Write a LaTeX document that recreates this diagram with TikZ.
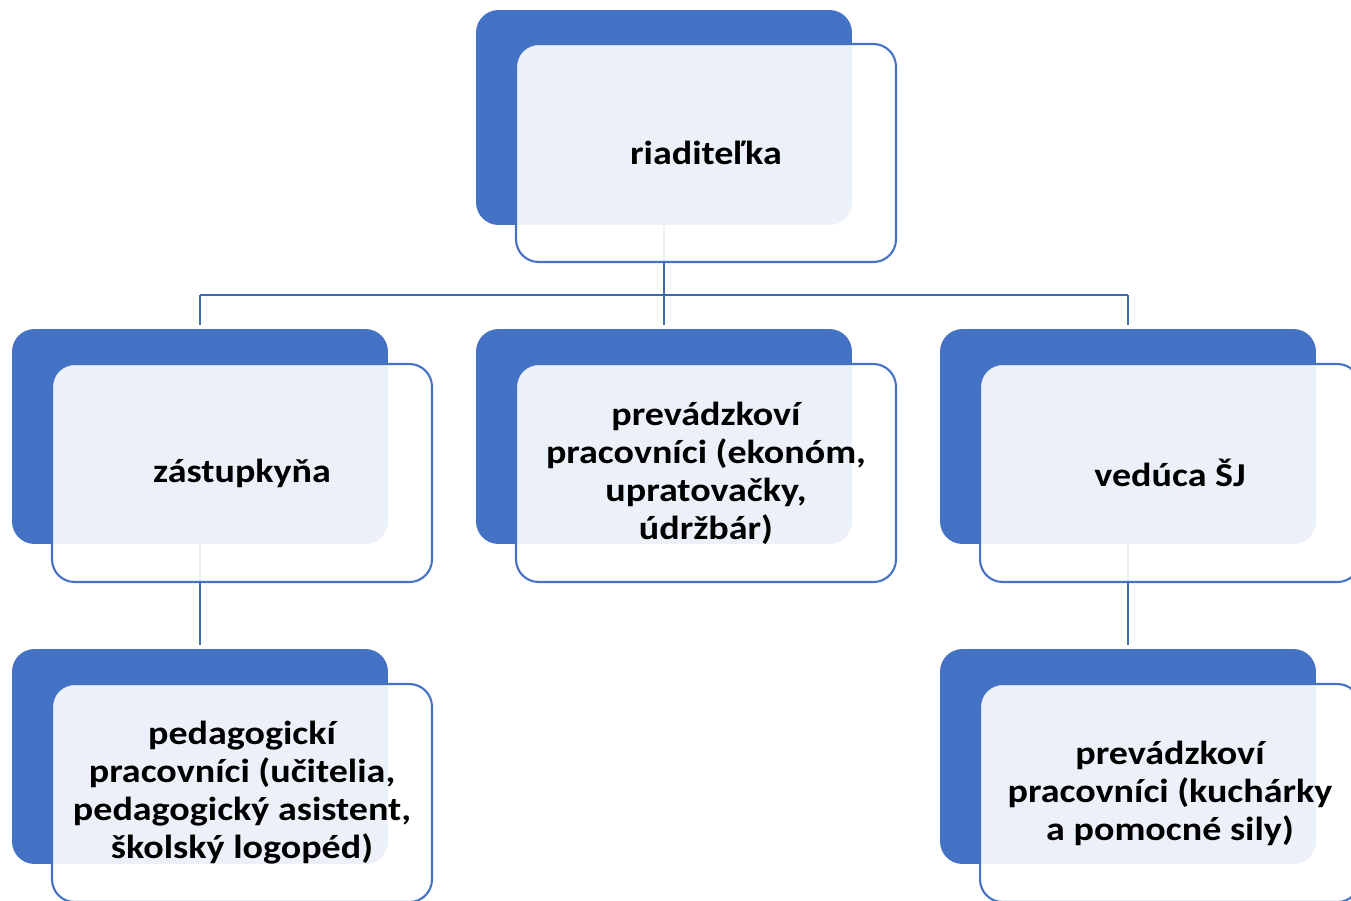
\documentclass[tikz,border=0pt]{standalone}
\usepackage{fontspec}
\setmainfont{Carlito}[FakeStretch=1.14]
\usepackage{tikz}
\usetikzlibrary{calc}
\definecolor{orgblue}{HTML}{4472C4}
\definecolor{linkblue}{HTML}{4068B8}
\tikzset{%
  backbox/.style={rectangle, rounded corners=0.45cm, fill=orgblue, minimum width=7.52cm, minimum height=4.3cm},
  frontbox/.style={rectangle, rounded corners=0.45cm, draw=orgblue, line width=1.2pt, fill=white, fill opacity=0.9, text opacity=1,
    minimum width=7.6cm, minimum height=4.36cm, align=center, font=\fontsize{19}{21.6}\selectfont\bfseries},
  mylink/.style={draw=linkblue, line width=1.3pt}
}
\begin{document}
\begin{tikzpicture}[x=0.02cm, y=-0.02cm]
  \useasboundingbox (0,0) rectangle (1351,900);

% zadne obdlzniky
\node (B1) [backbox] at (664, 117.5) {};
\node (B2) [backbox] at (200, 436.5) {};
\node (B3) [backbox] at (664, 436.5) {};
\node (B4) [backbox] at (1128, 436.5) {};
\node (B5) [backbox] at (200, 756.5) {};
\node (B6) [backbox] at (1128, 756.5) {};

\coordinate (J0) at (664, 295);
\coordinate (J1) at (200, 295);
\coordinate (J2) at (1128, 295);
\coordinate (T2) at (200, 325);
\coordinate (T3) at (664, 325);
\coordinate (T4) at (1128, 325);
\coordinate (T5) at (200, 645);
\coordinate (T6) at (1128, 645);

% spojenia
\draw [mylink] (B1.south) -- (T3);
\draw [mylink] (J1) -- (J2);
\draw [mylink] (J1) -- (T2);
\draw [mylink] (J2) -- (T4);
\draw [mylink] (B2.south) -- (T5);
\draw [mylink] (B4.south) -- (T6);

% predne obdlzniky
\node (F1) [frontbox] at (706, 153) {riaditeľka};
\node (F2) [frontbox] at (242, 473) {zástupkyňa};
\node (F3) [frontbox] at (706, 473) {prevádzkoví\\pracovníci (ekonóm,\\upratovačky,\\údržbár)};
\node (F4) [frontbox] at (1170, 473) {vedúca ŠJ};
\node (F5) [frontbox] at (242, 793) {pedagogickí\\pracovníci (učitelia,\\pedagogický asistent,\\školský logopéd)};
\node (F6) [frontbox] at (1170, 793) {prevádzkoví\\pracovníci (kuchárky\\a pomocné sily)};
\end{tikzpicture}
\end{document}
